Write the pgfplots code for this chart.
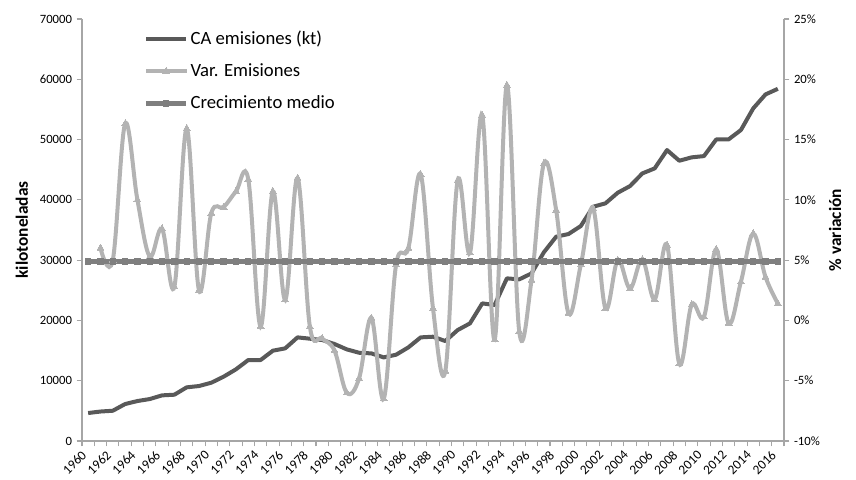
\documentclass[border=0pt]{standalone}
\usepackage{fontspec}
\setmainfont{Carlito}
\usepackage{pgfplots}
\usepackage{pgfplotstable}
\pgfplotsset{compat=1.18}

\definecolor{caco}{HTML}{595959}
\definecolor{varco}{HTML}{B3B3B3}
\definecolor{medco}{HTML}{7F7F7F}
\definecolor{axco}{HTML}{A6A6A6}

% emisiones de CO2 (kt)
\pgfplotstableread{
year kt
1960 4640
1961 4890
1962 5020
1963 6130
1964 6630
1965 6960
1966 7570
1967 7680
1968 8900
1969 9120
1970 9670
1971 10670
1972 11890
1973 13430
1974 13430
1975 14980
1976 15370
1977 17190
1978 16970
1979 16750
1980 16090
1981 15200
1982 14640
1983 14530
1984 13870
1985 14310
1986 15530
1987 17190
1988 17300
1989 16580
1990 18400
1991 19510
1992 22830
1993 22550
1994 26980
1995 26810
1996 27800
1997 31300
1998 33890
1999 34330
2000 35660
2001 38860
2002 39420
2003 41180
2004 42290
2005 44390
2006 45220
2007 48260
2008 46490
2009 47050
2010 47260
2011 50030
2012 50030
2013 51580
2014 55170
2015 57490
2016 58420
}\catable

% variacion anual (%)
\pgfplotstableread{
year v
1961 6.0
1962 5.0
1963 16.3
1964 10.0
1965 5.3
1966 7.6
1967 2.8
1968 15.9
1969 2.5
1970 8.9
1971 9.4
1972 10.7
1973 11.7
1974 -0.5
1975 10.7
1976 1.7
1977 11.8
1978 -0.5
1979 -1.5
1980 -2.5
1981 -6.0
1982 -4.8
1983 0.2
1984 -6.5
1985 4.6
1986 6.0
1987 12.1
1988 1.0
1989 -4.2
1990 11.6
1991 5.6
1992 17.0
1993 -1.6
1994 19.5
1995 -0.9
1996 3.35
1997 13.0
1998 9.15
1999 0.6
2000 4.6
2001 9.3
2002 1.0
2003 5.0
2004 2.65
2005 5.05
2006 1.75
2007 6.25
2008 -3.6
2009 1.3
2010 0.3
2011 5.9
2012 -0.25
2013 3.2
2014 7.2
2015 3.6
2016 1.4
}\vartable

% crecimiento medio (%)
\pgfplotstableread{
year g
1960 4.9
1961 4.9
1962 4.9
1963 4.9
1964 4.9
1965 4.9
1966 4.9
1967 4.9
1968 4.9
1969 4.9
1970 4.9
1971 4.9
1972 4.9
1973 4.9
1974 4.9
1975 4.9
1976 4.9
1977 4.9
1978 4.9
1979 4.9
1980 4.9
1981 4.9
1982 4.9
1983 4.9
1984 4.9
1985 4.9
1986 4.9
1987 4.9
1988 4.9
1989 4.9
1990 4.9
1991 4.9
1992 4.9
1993 4.9
1994 4.9
1995 4.9
1996 4.9
1997 4.9
1998 4.9
1999 4.9
2000 4.9
2001 4.9
2002 4.9
2003 4.9
2004 4.9
2005 4.9
2006 4.9
2007 4.9
2008 4.9
2009 4.9
2010 4.9
2011 4.9
2012 4.9
2013 4.9
2014 4.9
2015 4.9
2016 4.9
}\medtable

\pgfplotsset{
  base/.style={
    scale only axis, width=526.5pt, height=316.5pt,
    at={(0,0)}, anchor=south west,
    xmin=1959.5, xmax=2016.5,
    tick align=outside,
    major tick length=4pt, minor tick length=4pt,
    /pgf/number format/assume math mode=true,
    /pgf/number format/1000 sep={},
    tick label style={font=\fontsize{9.5}{11}\selectfont, text=black},
    axis line style={axco, line width=0.8pt, -},
    every tick/.style={axco, line width=0.8pt},
    label style={font=\bfseries\fontsize{13}{15}\selectfont},
  }
}

\begin{document}
\begin{tikzpicture}
\useasboundingbox (-61.5pt,-28.5pt) rectangle (580.5pt,330.75pt);

\begin{axis}[base,
  axis y line*=left, axis x line*=bottom,
  ymin=0, ymax=70000, ytick={0,10000,...,70000},
  scaled y ticks=false,
  xtick={1960,1962,...,2016},
  major x tick style={draw=none},
  minor xtick={1959.5,1960.5,...,2016.5},
  xticklabel style={xshift=-5.5pt, yshift=-1pt, rotate=45, anchor=north east,
    inner sep=1pt, font=\fontsize{10}{11}\selectfont},
  ylabel={kilotoneladas},
  ylabel style={yshift=2pt},
]
\addplot[caco, line width=3pt, line join=round] table[x=year, y=kt] {\catable};
\end{axis}

\begin{axis}[base,
  axis y line*=right, axis x line=none,
  ymin=-10, ymax=25, ytick={-10,-5,...,25},
  yticklabel={\pgfmathprintnumber{\tick}\%},
  ylabel={\% variación},
  legend style={at={(0.086,0.982)}, anchor=north west, draw=none, fill=none,
    font=\fontsize{14}{16}\selectfont, row sep=9pt, inner sep=1pt,
    nodes={inner xsep=1.5pt}},
  legend cell align=left,
  legend image code/.code={\draw[mark repeat=2, mark phase=2, #1] plot coordinates {(0pt,0pt) (15pt,0pt) (30pt,0pt)};},
]
\addlegendimage{caco, line width=3pt}
\addlegendentry{CA emisiones (kt)}
\addplot[varco, line width=3pt, smooth, tension=0.6, mark=triangle*, mark size=3pt,
  mark options={fill=varco, draw=varco, line width=0pt}] table[x=year, y=v] {\vartable};
\addlegendentry{Var. Emisiones}
\addplot[medco, line width=3.5pt, mark=square*, mark size=2pt,
  mark options={fill=medco, draw=medco, line width=0pt}] table[x=year, y=g] {\medtable};
\addlegendentry{Crecimiento medio}
\end{axis}
\end{tikzpicture}
\end{document}
